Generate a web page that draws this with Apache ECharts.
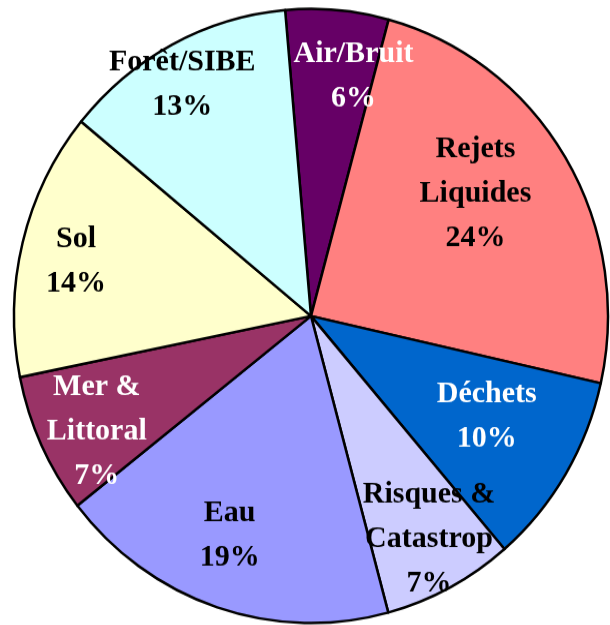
<!DOCTYPE html>
<html>
<head>
<meta charset="utf-8">
<script src="https://cdn.jsdelivr.net/npm/echarts@6/dist/echarts.min.js"></script>
<style>
  html, body { margin: 0; padding: 0; background: #fff; width: 610px; height: 625px; overflow: hidden; }
  /* The original pie is a touch taller than wide, so the chart is stretched a little vertically. */
  #chart { width: 610px; height: 605px; transform: scaleY(1.034); transform-origin: 0 0; }
</style>
</head>
<body>
<div id="chart"></div>
<script>
// Share of environmental themes (clockwise from the top).
const categories = ["Air/Bruit", "Rejets\nLiquides", "Déchets", "Risques &\nCatastrop", "Eau", "Mer &\nLittoral", "Sol", "Forêt/SIBE"];
const shares = [5.6, 24.3, 10.2, 7.1, 18.6, 7.4, 14.1, 12.7];

const sliceColors = ["#660066", "#ff8080", "#0066cc", "#ccccff", "#9999ff", "#993366", "#ffffcc", "#ccffff"];
const labelColors = ["#fff", "#000", "#fff", "#000", "#000", "#fff", "#000", "#000"];
// Where each label sits on screen: distance from the centre and a small angular nudge (degrees).
const labelPlace = [[250, 4.7], [209, -7], [199, -3], [246, -0.8], [227, 2.6], [240, -2], [243, 0.9], [271, -0.5]];

const stretch = 1.034;
const screenCenter = [311, 316];
const center = [screenCenter[0], screenCenter[1] / stretch];
const radius = 297;

const chart = echarts.init(document.getElementById("chart"));

chart.setOption({
  animation: false,
  series: [{
    type: "pie",
    center: center,
    radius: radius,
    startAngle: 95,
    clockwise: true,
    avoidLabelOverlap: false,
    itemStyle: { borderColor: "#000", borderWidth: 2.5 },
    label: {
      show: true,
      position: "inside",
      fontFamily: "Liberation Serif",
      fontWeight: "bold",
      fontSize: 30,
      lineHeight: 43,
      align: "center",
      formatter: (p) => p.name + "\n" + Math.round(p.value) + "%",
    },
    labelLayout: (p) => {
      // Push the default inside label out along its own angle.
      const r = p.labelRect;
      const dx = r.x + r.width / 2 - center[0];
      const dy = r.y + r.height / 2 - center[1];
      const [dist, nudge] = labelPlace[p.dataIndex];
      const a = Math.atan2(dx, -dy) + nudge * Math.PI / 180;
      const sy = -dist * Math.cos(a) + 7;
      return {
        x: center[0] + dist * Math.sin(a),
        y: center[1] + sy / stretch,
        align: "center",
        verticalAlign: "middle",
      };
    },
    emphasis: { disabled: true },
    data: categories.map((name, i) => ({
      name: name,
      value: shares[i],
      itemStyle: { color: sliceColors[i] },
      label: { color: labelColors[i] },
    })),
  }],
});
</script>
</body>
</html>
